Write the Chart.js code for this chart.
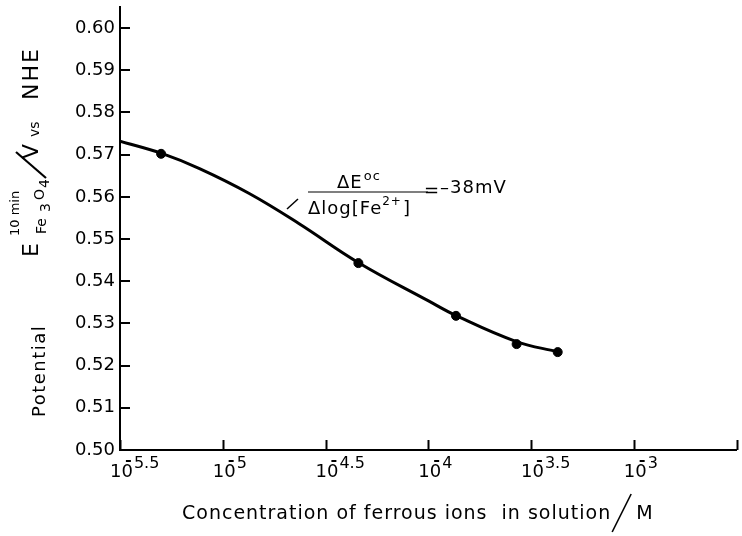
<!DOCTYPE html>
<html><head><meta charset="utf-8">
<script src="https://cdn.jsdelivr.net/npm/chart.js@4/dist/chart.umd.min.js"></script>
<style>html,body{margin:0;padding:0;background:#fff;}#wrap{width:742px;height:536px;}</style>
</head><body><div id="wrap"><canvas id="c" width="742" height="536"></canvas></div>
<script>
// measured points: log10 of concentration vs potential (V vs NHE)
const logConc   = [-5.30, -4.34, -3.865, -3.57, -3.37];
const potential = [0.5702, 0.5443, 0.5318, 0.5251, 0.5232];
// fitted curve
const curveLog = [-5.5, -5.297, -5.113, -4.871, -4.630, -4.339, -4.001, -3.866, -3.571, -3.372];
const curvePot = [0.5732, 0.5703, 0.5667, 0.5608, 0.5537, 0.5444, 0.5354, 0.5319, 0.5257, 0.5233];
// x ticks (exponents) and their superscript labels
const xTickExps   = [-5.5, -5, -4.5, -4, -3.5, -3, -2.5];
const xTickLabels = ['5.5', '5', '4.5', '4', '3.5', '3', ''];
// y ticks
const yTickVals = [0.50, 0.51, 0.52, 0.53, 0.54, 0.55, 0.56, 0.57, 0.58, 0.59, 0.60];

const FONT = '"DejaVu Sans", sans-serif';

const drawPlugin = {
  id: 'drawExtras',
  afterDraw(chart) {
    const ctx = chart.ctx;
    const xs = chart.scales.x, ys = chart.scales.y;
    const left = chart.chartArea.left, bottom = chart.chartArea.bottom;
    ctx.save();
    ctx.strokeStyle = '#000';
    ctx.fillStyle = '#000';
    ctx.lineWidth = 2;
    // tick marks inside
    xTickExps.forEach(v => {
      const px = Math.round(xs.getPixelForValue(v)) + 0.5;
      ctx.beginPath(); ctx.moveTo(px, bottom); ctx.lineTo(px, bottom - 10); ctx.stroke();
    });
    yTickVals.forEach(v => {
      const py = Math.round(ys.getPixelForValue(v));
      ctx.beginPath(); ctx.moveTo(left, py); ctx.lineTo(left + 10, py); ctx.stroke();
    });
    // x tick labels: 10^-n
    ctx.textBaseline = 'alphabetic';
    ctx.textAlign = 'left';
    xTickExps.forEach((v, i) => {
      if (!xTickLabels[i]) return;
      const px = xs.getPixelForValue(v);
      const x0 = px - 10;
      ctx.font = '18px ' + FONT;
      ctx.fillText('10', x0, bottom + 27);
      const w = ctx.measureText('10').width;
      ctx.fillRect(x0 + w - 7, bottom + 10, 5, 2);
      ctx.font = '16px ' + FONT;
      ctx.fillText(xTickLabels[i], x0 + w + 1, bottom + 18);
    });
    // x axis title
    ctx.font = '19px ' + FONT;
    ctx.letterSpacing = '1px';
    const t1 = 'Concentration of ferrous ions  in solution';
    ctx.fillText(t1, 182, 519);
    const tw = ctx.measureText(t1).width;
    const sx = Math.max(182 + tw + 1, 612);
    ctx.lineWidth = 1.6;
    ctx.beginPath(); ctx.moveTo(sx, 532); ctx.lineTo(sx + 19, 494); ctx.stroke();
    ctx.fillText('M', sx + 24, 519);

    // y axis title (rotated)
    ctx.save();
    ctx.translate(0, 536);
    ctx.rotate(-Math.PI / 2);
    // local (u,v): screen x = v, screen y = 536 - u
    ctx.font = '18px ' + FONT;
    ctx.letterSpacing = '1.5px';
    ctx.fillText('Potential', 119, 45);
    ctx.letterSpacing = '0px';
    ctx.font = '22px ' + FONT;
    ctx.fillText('E', 279, 38);
    ctx.font = '13px ' + FONT;
    ctx.fillText('10 min', 300, 19);
    ctx.font = '14px ' + FONT;
    ctx.fillText('Fe', 302, 46);
    ctx.fillText('3', 324, 50);
    ctx.fillText('O', 336, 44);
    ctx.fillText('4', 348, 49);
    ctx.lineWidth = 2.2;
    ctx.beginPath(); ctx.moveTo(358, 46); ctx.lineTo(384, 16); ctx.stroke();
    ctx.font = '22px ' + FONT;
    ctx.fillText('V', 377, 38);
    ctx.font = '14px ' + FONT;
    ctx.fillText('vs', 399, 39);
    ctx.font = '22px ' + FONT;
    ctx.letterSpacing = '2px';
    ctx.fillText('NHE', 436, 38);
    ctx.letterSpacing = '0px';
    ctx.restore();

    // annotation: slope
    ctx.letterSpacing = '0px';
    ctx.lineWidth = 1.5;
    ctx.beginPath(); ctx.moveTo(287, 209); ctx.lineTo(298, 199); ctx.stroke();
    ctx.font = '18px ' + FONT;
    ctx.letterSpacing = '1px';
    ctx.fillText('\u0394E', 337, 188);
    const nw = ctx.measureText('\u0394E').width;
    ctx.font = '13px ' + FONT;
    ctx.fillText('oc', 337 + nw + 1, 180);
    ctx.lineWidth = 1.2;
    ctx.beginPath(); ctx.moveTo(308, 192); ctx.lineTo(428, 192); ctx.stroke();
    ctx.font = '18px ' + FONT;
    ctx.fillText('\u0394log[Fe', 308, 214);
    let dw = ctx.measureText('\u0394log[Fe').width;
    ctx.font = '12px ' + FONT;
    ctx.fillText('2+', 308 + dw, 205);
    const sw = ctx.measureText('2+').width;
    ctx.font = '18px ' + FONT;
    ctx.fillText(']', 308 + dw + sw + 1, 214);
    ctx.fillText('=', 424, 196);
    ctx.fillText('\u201338mV', 440, 193);
    ctx.restore();
  }
};

new Chart(document.getElementById('c'), {
  type: 'scatter',
  data: {
    datasets: [
      {
        type: 'line',
        data: curveLog.map((x, i) => ({x, y: curvePot[i]})),
        borderColor: '#000',
        borderWidth: 3,
        pointRadius: 0,
        fill: false,
        tension: 0.4
      },
      {
        data: logConc.map((x, i) => ({x, y: potential[i]})),
        backgroundColor: '#000',
        borderColor: '#000',
        pointRadius: 4.5,
        showLine: false
      }
    ]
  },
  options: {
    responsive: false,
    animation: false,
    devicePixelRatio: 1,
    layout: { padding: { top: 7, right: 5, bottom: 0, left: 0 } },
    plugins: { legend: { display: false }, tooltip: { enabled: false }, title: { display: false } },
    scales: {
      x: {
        type: 'linear', min: -5.5, max: -2.5,
        grid: { display: false, drawTicks: false },
        border: { display: true, color: '#000', width: 2 },
        ticks: { display: false, stepSize: 0.5 },
        afterFit(s) { s.height = 86; s.paddingLeft = 0; s.paddingRight = 0; }
      },
      y: {
        type: 'linear', min: 0.5, max: 0.605,
        grid: { display: false, drawTicks: false },
        border: { display: true, color: '#000', width: 2 },
        ticks: {
          stepSize: 0.01, includeBounds: false, padding: 5, color: '#000',
          font: { family: FONT, size: 18 },
          callback: v => (v <= 0.6001 ? Number(v).toFixed(2) : '')
        },
        afterFit(s) { s.width = 120; s.paddingTop = 0; s.paddingBottom = 0; }
      }
    }
  },
  plugins: [drawPlugin]
});
</script>
</body></html>
